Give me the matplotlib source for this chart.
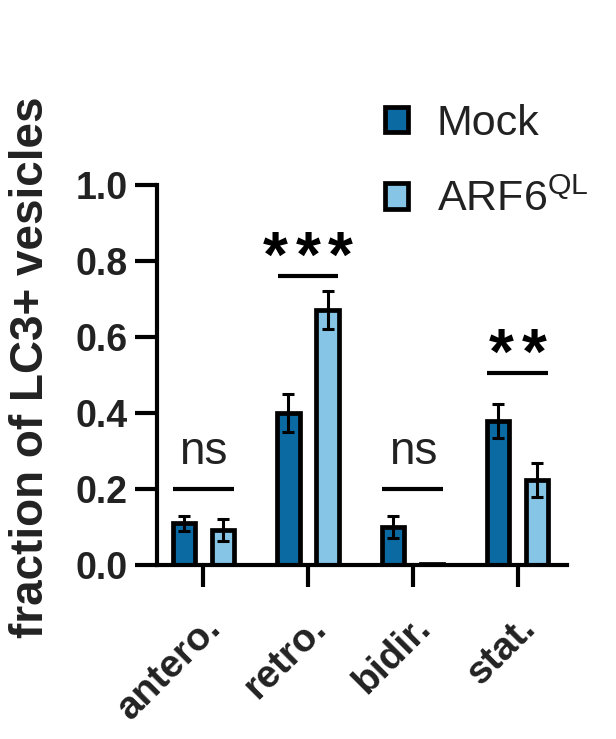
import matplotlib
matplotlib.use("Agg")
import matplotlib.pyplot as plt
import numpy as np

plt.rcParams['font.family'] = ['Liberation Sans', 'DejaVu Sans']

categories = ["antero.", "retro.", "bidir.", "stat."]
series_names = ["Mock", "ARF6$^{\\mathregular{QL}}$"]
mock_vals = [0.11, 0.40, 0.10, 0.38]
mock_err = [0.02, 0.05, 0.03, 0.045]
arf_vals = [0.092, 0.67, 0.003, 0.224]
arf_err = [0.028, 0.05, 0.0, 0.045]
sig_labels = ["ns", "***", "ns", "**"]
sig_heights = [0.20, 0.76, 0.20, 0.505]
yticks = [0.0, 0.2, 0.4, 0.6, 0.8, 1.0]

mock_color = "#0b6aa2"
arf_color = "#86c5e6"
text_color = "#222222"

fig = plt.figure(figsize=(6.16, 7.39), dpi=100)
ax = fig.add_axes([157/616, 1-565/739, (567-157)/616, (565-185)/739])

x = np.arange(len(categories))
off = 0.186
w = 0.21
lw_edge = 3.4

ax.bar(x - off, mock_vals, w, color=mock_color, edgecolor="black", linewidth=lw_edge, zorder=2, label=series_names[0])
ax.bar(x + off, arf_vals, w, color=arf_color, edgecolor="black", linewidth=lw_edge, zorder=2, label=series_names[1])
ax.errorbar(x - off, mock_vals, yerr=mock_err, fmt="none", ecolor="black", elinewidth=2.2, capsize=4.5, capthick=2.2, zorder=3)
arf_mask = np.array(arf_err) > 0
ax.errorbar((x + off)[arf_mask], np.array(arf_vals)[arf_mask], yerr=np.array(arf_err)[arf_mask], fmt="none", ecolor="black", elinewidth=2.2, capsize=4.5, capthick=2.2, zorder=3)

star_step = 0.31
for i, (lab, h) in enumerate(zip(sig_labels, sig_heights)):
    ax.plot([x[i] - 0.29, x[i] + 0.29], [h, h], color="black", lw=3.0, solid_capstyle="butt", zorder=3)
    if lab == "ns":
        ax.text(x[i], h + 0.066, lab, ha="center", va="baseline", fontsize=33, color=text_color)
    else:
        n = len(lab)
        for k in range(n):
            xs = x[i] + (k - (n - 1) / 2) * star_step
            ax.text(xs, h - 0.001, "*", ha="center", va="baseline", fontsize=46, fontweight="bold", color="black")

ax.set_xlim(-0.44, 3.47)
ax.set_ylim(0, 1.0)
ax.set_yticks(yticks)
ax.set_yticklabels([f"{v:.1f}" for v in yticks], fontsize=27, fontweight="bold", color=text_color)
ax.set_xticks(x)
ax.set_xticklabels(categories, rotation=45, ha="right", rotation_mode="anchor", fontsize=28, fontweight="bold", color=text_color)
ax.tick_params(axis="y", length=16, width=3, pad=5)
ax.tick_params(axis="x", length=16, width=3, pad=16)
for s in ["top", "right"]:
    ax.spines[s].set_visible(False)
for s in ["left", "bottom"]:
    ax.spines[s].set_linewidth(3)
ax.spines["left"].set_bounds(0, 1.0)
ax.set_ylabel("fraction of LC3+ vesicles", fontsize=33, fontweight="bold", color=text_color)
ax.yaxis.set_label_coords(-0.254, 0.52)

leg = fig.legend(handles=ax.get_legend_handles_labels()[0], labels=series_names,
                 loc="upper left", bbox_to_anchor=(385/616, 1 - 104/739), frameon=False, fontsize=31,
                 handlelength=0.53, handleheight=0.53, handletextpad=0.67, labelspacing=0.83,
                 borderaxespad=0, borderpad=0)
for t in leg.get_texts():
    t.set_color(text_color)

fig.savefig("out.png", dpi=100)
